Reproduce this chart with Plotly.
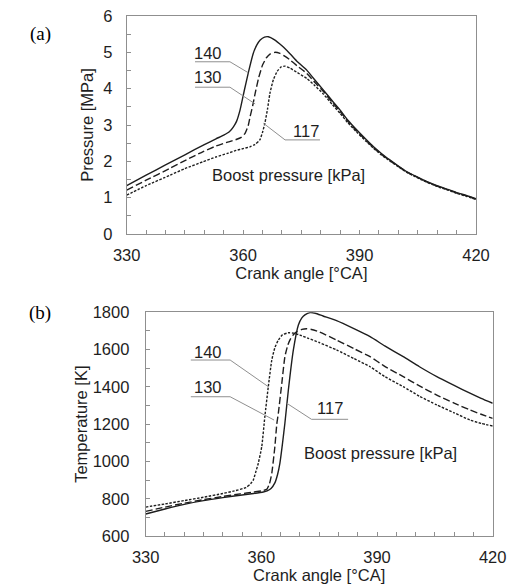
import plotly.graph_objects as go

# ---------------- data: panel (a) pressure ----------------
p140_x = [330, 335, 340, 345, 350, 353, 355, 356.5, 357.5, 358.3, 359.2, 360.3, 361.4, 362.6, 363.5, 364.4, 365.5, 366.5,
          368, 370, 372, 374, 376.4, 378, 380.7, 383, 385, 387, 389.3, 391.5, 393.6, 395.7, 397.8, 400, 402.1, 404.3,
          406.4, 408.5, 410.7, 413, 415, 417.5, 420]
p140_y = [1.33, 1.62, 1.90, 2.18, 2.46, 2.62, 2.72, 2.82, 2.95, 3.10, 3.41, 3.95, 4.47, 4.97, 5.20, 5.34, 5.42, 5.43,
          5.35, 5.18, 4.97, 4.74, 4.51, 4.30, 3.96, 3.66, 3.41, 3.13, 2.86, 2.62, 2.40, 2.21, 2.04, 1.87, 1.72, 1.60,
          1.49, 1.39, 1.30, 1.22, 1.14, 1.06, 0.97]

p130_x = [330, 335, 341.2, 345, 349.7, 353, 356, 358.2, 359.5, 360.5, 361.3, 361.8, 362.5, 363.1, 364, 365, 366, 367,
          368.2, 369.5, 370.8, 372.1, 374, 376.4, 378.5, 380.7, 383, 385, 387, 389.3, 391.5, 393.6, 395.7, 397.8, 400,
          402.1, 404.3, 406.4, 408.5, 410.7, 413, 415, 417.5, 420]
p130_y = [1.21, 1.48, 1.81, 2.02, 2.27, 2.42, 2.53, 2.60, 2.66, 2.77, 2.98, 3.23, 3.55, 3.87, 4.30, 4.65, 4.85, 4.96,
          5.00, 4.97, 4.89, 4.79, 4.62, 4.42, 4.17, 3.92, 3.62, 3.37, 3.10, 2.83, 2.59, 2.38, 2.19, 2.02, 1.86,
          1.71, 1.59, 1.48, 1.38, 1.29, 1.21, 1.13, 1.05, 0.96]

p117_x = [330, 335, 341.2, 345, 349.7, 353, 356, 358.2, 360, 361.8, 363, 364.3, 365, 365.6, 366.3, 366.9, 367.8, 368.8,
          369.8, 370.8, 372, 374, 376.4, 378.5, 380.7, 383, 385, 387, 389.3, 391.5, 393.6, 395.7, 397.8, 400, 402.1,
          404.3, 406.4, 408.5, 410.7, 413, 415, 417.5, 420]
p117_y = [1.07, 1.33, 1.62, 1.80, 1.99, 2.12, 2.22, 2.30, 2.35, 2.40, 2.46, 2.59, 2.80, 3.05, 3.45, 3.87, 4.25, 4.48,
          4.60, 4.62, 4.57, 4.44, 4.28, 4.08, 3.85, 3.56, 3.32, 3.06, 2.80, 2.57, 2.36, 2.17, 2.01, 1.85, 1.70,
          1.58, 1.47, 1.37, 1.28, 1.20, 1.12, 1.04, 0.95]

# ---------------- data: panel (b) temperature ----------------
t117_x = [330, 335, 340, 345, 350, 355, 358, 360.5, 361.5, 362.5, 363.5, 364.2, 364.8, 365.5, 366.1, 367, 368.3, 369.6,
          370.5, 371.3, 372.6, 374, 376, 379.5, 384, 388.2, 392, 396.8, 401, 405.5, 410, 414.1, 417, 420]
t117_y = [718, 745, 770, 790, 806, 820, 828, 836, 842, 855, 885, 930, 990, 1100, 1205, 1383, 1598, 1732,
          1770, 1786, 1798, 1795, 1780, 1755, 1712, 1669, 1620, 1562, 1508, 1455, 1408, 1366, 1338, 1312]

t130_x = [330, 335, 340, 345, 350, 354.5, 358, 360, 361.4, 362.1, 362.7, 363.5, 364, 364.4, 365.3, 366.1, 366.8, 367.4,
          368.3, 369.2, 370.5, 371.7, 373, 375, 379.5, 384, 388.2, 392, 396.8, 401, 405.5, 410, 414.1, 417, 420]
t130_y = [732, 755, 776, 795, 812, 826, 836, 842, 850, 880, 936, 1079, 1200, 1258, 1419, 1562, 1620, 1651,
          1680, 1696, 1708, 1712, 1708, 1695, 1651, 1605, 1562, 1510, 1455, 1405, 1356, 1313, 1276, 1253, 1231]

t140_x = [330, 335, 340, 345, 350, 353, 356, 357.2, 357.9, 358.5, 359.2, 360.1, 360.9, 361.8, 362.7, 363.5, 364.4, 365.5,
          367, 368.5, 370, 372, 375, 379.5, 384, 388.2, 392, 396.8, 401, 405.5, 410, 414.1, 417, 420]
t140_y = [755, 772, 790, 808, 828, 842, 860, 880, 900, 940, 990, 1079, 1240, 1401, 1544, 1610, 1651, 1680,
          1690, 1688, 1678, 1662, 1638, 1598, 1552, 1508, 1455, 1401, 1350, 1303, 1261, 1222, 1204, 1190]

labels = ["140", "130", "117"]
x_ticks = [330, 360, 390, 420]
p_ticks = [0, 1, 2, 3, 4, 5, 6]
t_ticks = [600, 800, 1000, 1200, 1400, 1600, 1800]

INK = "#1e1e1e"
GRAY = "#8f8f8f"
FONT = "Liberation Sans, Arial, sans-serif"
SERIF = "Liberation Serif, Times New Roman, serif"
FS = 16.5

W, H = 512, 585

def px_x(p):
    return p / W

def px_y(p):
    return 1 - p / H

fig = go.Figure()

def line(x, y, dash, xa, ya, name):
    fig.add_trace(go.Scatter(x=x, y=y, mode="lines", name=name, xaxis=xa, yaxis=ya,
                             line=dict(color=INK, width=1.4, dash=dash, shape="spline", smoothing=0.5),
                             showlegend=False, hoverinfo="skip"))

line(p140_x, p140_y, "solid", "x", "y", "140 kPa")
line(p130_x, p130_y, "7px,3px", "x", "y", "130 kPa")
line(p117_x, p117_y, "2.5px,1.5px", "x", "y", "117 kPa")

line(t117_x, t117_y, "solid", "x2", "y2", "117 kPa")
line(t130_x, t130_y, "7px,3px", "x2", "y2", "130 kPa")
line(t140_x, t140_y, "2.5px,1.5px", "x2", "y2", "140 kPa")

tickfont = dict(family=FONT, size=FS, color=INK)
titlefont = dict(family=FONT, size=FS, color=INK)

def xaxis(domain, anchor, standoff):
    return dict(domain=domain, anchor=anchor, range=[330, 420], tickvals=x_ticks, automargin=False,
                ticks="inside", ticklen=4, tickcolor=GRAY, tickwidth=1, ticklabeloverflow="allow",
                minor=dict(dtick=5, ticks="inside", ticklen=4, tickcolor=GRAY, tickwidth=1, showgrid=False),
                showline=True, mirror=True, linecolor=GRAY, linewidth=1, showgrid=False, zeroline=False,
                tickfont=tickfont, ticklabelstandoff=standoff,
                title=dict(text="Crank angle [°CA]", font=titlefont, standoff=2))

def yaxis(domain, anchor, rng, tv, minor_dt, title, standoff, tstand):
    return dict(domain=domain, anchor=anchor, range=rng, tickvals=tv, automargin=False,
                ticks="inside", ticklen=4, tickcolor=GRAY, tickwidth=1, ticklabeloverflow="allow",
                minor=dict(dtick=minor_dt, ticks="inside", ticklen=4, tickcolor=GRAY, tickwidth=1, showgrid=False),
                showline=True, mirror=True, linecolor=GRAY, linewidth=1, showgrid=False, zeroline=False,
                tickfont=tickfont, ticklabelstandoff=standoff,
                title=dict(text=title, font=titlefont, standoff=tstand))

fig.update_layout(
    width=W, height=H, margin=dict(l=0, r=0, t=0, b=0),
    paper_bgcolor="white", plot_bgcolor="white",
    xaxis=xaxis([px_x(126.7), px_x(476)], "y", 6),
    yaxis=yaxis([px_y(234), px_y(16)], "x", [0, 6], p_ticks, 0.5, "Pressure [MPa]", 10, 5),
    xaxis2=xaxis([px_x(145.7), px_x(492.7)], "y2", 6),
    yaxis2=yaxis([px_y(536), px_y(312.3)], "x2", [600, 1800], t_ticks, 100, "Temperature [K]", 12, 0),
)

# leader lines (data coordinates)
leaders_a = [
    ([347.6, 356.6, 361.3], [4.74, 4.74, 4.44]),
    ([347.6, 356.6, 363.1], [4.04, 4.04, 3.58]),
    ([365.2, 370.8, 379.8], [3.05, 2.59, 2.59]),
]
leaders_b = [
    ([341.7, 351.9, 361.8], [1544, 1544, 1401]),
    ([341.7, 351.9, 363.3], [1347, 1347, 1222]),
    ([366.6, 373.0, 382.5], [1312, 1226, 1226]),
]
for xs, ys in leaders_a:
    fig.add_trace(go.Scatter(x=xs, y=ys, mode="lines", xaxis="x", yaxis="y", showlegend=False,
                             hoverinfo="skip", line=dict(color=GRAY, width=1)))
for xs, ys in leaders_b:
    fig.add_trace(go.Scatter(x=xs, y=ys, mode="lines", xaxis="x2", yaxis="y2", showlegend=False,
                             hoverinfo="skip", line=dict(color=GRAY, width=1)))

lab_a = [(350.9, 4.98), (350.9, 4.32), (376.2, 2.84)]
lab_b = [(346.2, 1589), (346.2, 1398), (377.8, 1287)]
for (x, y), t in zip(lab_a, labels):
    fig.add_annotation(x=x, y=y, xref="x", yref="y", text=t, showarrow=False, font=dict(family=FONT, size=FS, color=INK))
for (x, y), t in zip(lab_b, labels):
    fig.add_annotation(x=x, y=y, xref="x2", yref="y2", text=t, showarrow=False, font=dict(family=FONT, size=FS, color=INK))

fig.add_annotation(x=371.7, y=1.62, xref="x", yref="y", text="Boost pressure [kPa]", showarrow=False,
                   font=dict(family=FONT, size=FS, color=INK))
fig.add_annotation(x=390.8, y=1044, xref="x2", yref="y2", text="Boost pressure [kPa]", showarrow=False,
                   font=dict(family=FONT, size=FS, color=INK))

fig.add_annotation(x=px_x(27.5), y=px_y(21.5), xref="paper", yref="paper", text="(a)", showarrow=False,
                   font=dict(family=SERIF, size=19, color="black"))
fig.add_annotation(x=px_x(27), y=px_y(313), xref="paper", yref="paper", text="(b)", showarrow=False,
                   font=dict(family=SERIF, size=19, color="black"))

fig.write_html("out.html", config={"displayModeBar": False},
               post_script="document.body.style.margin='0';document.body.style.overflow='hidden';")
